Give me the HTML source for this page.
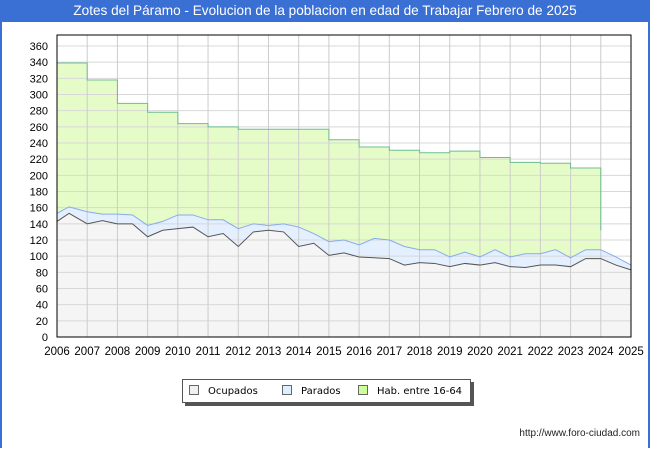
<!DOCTYPE html>
<html><head><meta charset="utf-8"><style>
body{margin:0;background:#fff;}
#wrap{position:relative;width:646px;height:448px;border:2px solid #3a6fd4;border-top:none;border-bottom:none;overflow:hidden;font-family:"Liberation Sans",sans-serif;}
#title{position:absolute;left:0;top:0;width:646px;height:22px;background:#3a6fd4;color:#fff;font-size:13.6px;line-height:22px;text-align:center;white-space:nowrap;}
#legend{position:absolute;left:180px;top:379px;width:287px;height:22px;border:1px solid #555;background:#fff;box-shadow:3px 3px 0 #555;font-size:10px;font-family:"DejaVu Sans",sans-serif;white-space:nowrap;}
.li{position:absolute;top:5px;}
.sw{display:inline-block;width:8px;height:8px;border:1px solid #666;margin-right:9px;vertical-align:-1px;}
#url{position:absolute;right:8px;top:428px;font-size:10px;color:#222;}
</style></head><body>
<div id="wrap">
<div id="title">Zotes del Páramo - Evolucion de la poblacion en edad de Trabajar Febrero de 2025</div>
<svg id="chart" width="646" height="370" style="position:absolute;left:0;top:0"></svg>
<div id="legend">
<span class="li" style="left:6px"><span class="sw" style="background:#f0f0f0"></span>Ocupados</span>
<span class="li" style="left:99px"><span class="sw" style="background:#ddeeff"></span>Parados</span>
<span class="li" style="left:175px"><span class="sw" style="background:#ccff99"></span>Hab. entre 16-64</span>
</div>
<div id="url">http://www.foro-ciudad.com</div>
</div>
<script>
const years=[2006,2007,2008,2009,2010,2011,2012,2013,2014,2015,2016,2017,2018,2019,2020,2021,2022,2023,2024,2025];
const yTicks=[0,20,40,60,80,100,120,140,160,180,200,220,240,260,280,300,320,340,360];
const habYears=[2006,2007,2008,2009,2010,2011,2012,2013,2014,2015,2016,2017,2018,2019,2020,2021,2022,2023];
const habValues=[339,318,289,278,264,260,257,257,257,244,235,231,228,230,222,216,215,209];
const habEndYear=2024;
const habEndValue=132;
const seriesTimes=[2006,2006.4,2007,2007.5,2008,2008.5,2009,2009.5,2010,2010.5,2011,2011.5,2012,2012.5,2013,2013.5,2014,2014.5,2015,2015.5,2016,2016.5,2017,2017.5,2018,2018.5,2019,2019.5,2020,2020.5,2021,2021.5,2022,2022.5,2023,2023.5,2024,2024.5,2025];
const paradosValues=[153,161,155,152,152,151,138,143,151,151,145,145,134,140,138,140,136,128,118,120,114,122,120,112,108,108,99,105,99,108,99,103,103,108,98,108,108,99,89];
const ocupadosValues=[143,153,140,144,140,140,124,132,134,136,124,128,112,130,132,130,112,116,101,104,99,98,97,89,92,91,87,91,89,92,87,86,89,89,87,97,97,89,83];
const svg=document.getElementById('chart');
const NS='http://www.w3.org/2000/svg';
const L=55,R=629,T=35,B=337;
const xs=v=>L+(v-2006)*(R-L)/19;
const ys=v=>B-v*(291/360);
function mk(tag,attrs){const e=document.createElementNS(NS,tag);for(const k in attrs)e.setAttribute(k,attrs[k]);svg.appendChild(e);return e;}
let bg=mk('rect',{x:L,y:T,width:R-L,height:B-T,fill:'#fff'});


let hp='M'+xs(habYears[0])+','+B;
let hline='M'+xs(habYears[0])+','+ys(habValues[0]);
habYears.forEach((y,i)=>{const x2=i<habYears.length-1?habYears[i+1]:habEndYear;hp+=' L'+xs(y)+','+ys(habValues[i])+' L'+xs(x2)+','+ys(habValues[i]);hline+=' L'+xs(y)+','+ys(habValues[i])+' L'+xs(x2)+','+ys(habValues[i]);});
hp+=' L'+xs(habEndYear)+','+ys(habEndValue)+' L'+xs(habEndYear)+','+B+' Z';
hline+=' L'+xs(habEndYear)+','+ys(habEndValue);
let ha=mk('path',{d:hp,fill:'#e6fcc8',stroke:'none'});


function area(vals,fill,name){
 let line=vals.map((v,i)=>(i?'L':'M')+xs(seriesTimes[i])+','+ys(v)).join(' ');
 let a=mk('path',{d:line+' L'+xs(seriesTimes[seriesTimes.length-1])+','+B+' L'+xs(seriesTimes[0])+','+B+' Z',fill:fill});
 
 
 return line;
}
const pl=area(paradosValues,'#e4f0ff','parados');
const ol=area(ocupadosValues,'#f5f5f5','ocupados');
yTicks.forEach(t=>{
 let g=mk('line',{x1:L,x2:R,y1:ys(t),y2:ys(t),stroke:'#d8d8d8','stroke-width':1});
 
 
 let tx=mk('text',{x:L-9,y:ys(t)+4,'text-anchor':'end','font-size':11,fill:'#000','font-family':'Liberation Sans, sans-serif'});
 tx.textContent=t;
 
 
});
years.forEach(y=>{
 let g=mk('line',{x1:xs(y),x2:xs(y),y1:T,y2:B,stroke:'#cccccc','stroke-width':1});
 
 
 let tx=mk('text',{x:xs(y),y:B+18,'text-anchor':'middle','font-size':11.5,fill:'#000','font-family':'Liberation Sans, sans-serif'});
 tx.textContent=y;
 
 
});
let plL=mk('path',{d:pl,fill:'none',stroke:'#88aaee','stroke-width':1});


let olL=mk('path',{d:ol,fill:'none',stroke:'#555555','stroke-width':1});


let hl2=mk('path',{d:hline,fill:'none',stroke:'#6dbf8f','stroke-width':1});


let fr=mk('rect',{x:L,y:T,width:R-L,height:B-T,fill:'none',stroke:'#000','stroke-width':1});


</script>
</body></html>
